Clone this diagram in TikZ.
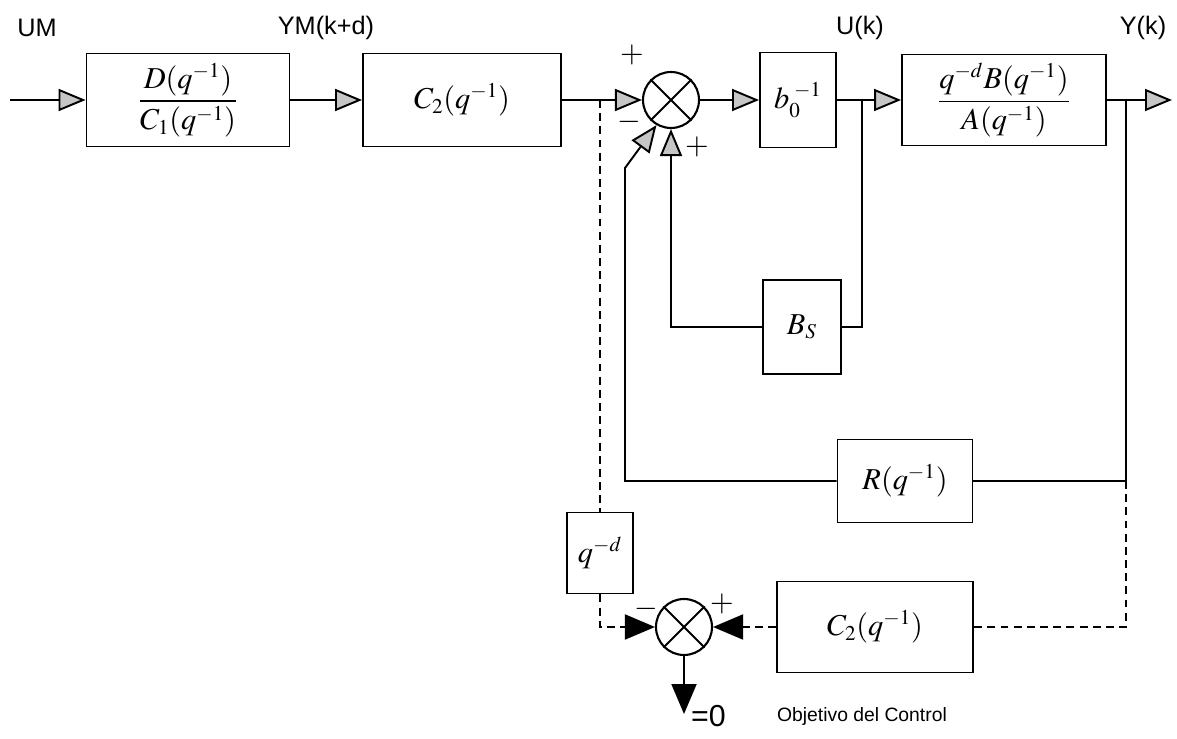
\documentclass[tikz,border=0pt]{standalone}
\usepackage{amsmath}
\usepackage{mathptmx}
\usepackage{fontspec}
\setsansfont{Liberation Sans}
\usepackage{tikz}
\usetikzlibrary{arrows.meta, positioning, calc}
\tikzstyle{block} = [draw=black, line width=1.1pt, inner sep=2pt, font=\LARGE, align=center]
\tikzstyle{sumnode} = [draw=black, circle, line width=1.2pt, minimum size=1.12cm, inner sep=0pt]
\tikzstyle{arrow} = [line width=1.1pt, -{Triangle[length=5.4mm,width=4.4mm,fill=gray!45]}]
\tikzstyle{blackarrow} = [line width=1.1pt, -{Triangle[length=6mm,width=5mm]}]
\tikzstyle{wire} = [line width=1.1pt]
\tikzstyle{dashwire} = [line width=1.1pt, dash pattern=on 4.5pt off 3pt]
\tikzstyle{signal} = [font=\sffamily\Large, inner sep=1pt]
\tikzstyle{sign} = [font=\LARGE, inner sep=0pt]

\begin{document}
\begin{tikzpicture}[x=0.02cm, y=-0.02cm]
\useasboundingbox (0,0) rectangle (1177,739);

% main path
\node[block, minimum width=4.06cm, minimum height=1.86cm] (filt) at (188,100)
{$\dfrac{D(q^{-1})}{C_1(q^{-1})}$};
\node[block, minimum width=3.96cm, minimum height=1.86cm] (ctwo) at (462,100)
{$C_2(q^{-1})$};
\node[sumnode] (sumtop) at (671,100) {};
\node[block, minimum width=1.52cm, minimum height=1.9cm] (binv) at (798,100)
{$b_0^{\;-1}$};
\node[block, minimum width=4.08cm, minimum height=1.82cm] (plant) at (1004,100)
{$\dfrac{q^{-d}B(q^{-1})}{A(q^{-1})}$};

% feedback blocks
\node[block, minimum width=1.56cm, minimum height=1.88cm] (bs) at (802,327) {$B_S$};
\node[block, minimum width=2.7cm, minimum height=1.66cm] (rblk) at (905,481) {$R(q^{-1})$};

% control objective
\node[block, minimum width=1.32cm, minimum height=1.62cm] (qd) at (600,553) {$q^{-d}$};
\node[sumnode] (sumbot) at (684,627) {};
\node[block, minimum width=3.92cm, minimum height=1.82cm] (ctwob) at (875,627) {$C_2(q^{-1})$};

\draw[wire] (sumtop.north east) -- (sumtop.south west) (sumtop.north west) -- (sumtop.south east);
\draw[wire] (sumbot.north east) -- (sumbot.south west) (sumbot.north west) -- (sumbot.south east);

\coordinate (um) at (10,100);
\coordinate (tap) at (600,100);
\coordinate (uk) at (862,100);
\coordinate (yk) at (1126,100);
\coordinate (out) at (1172,100);
\coordinate (rbend) at (625,168);
\coordinate (zero) at (684,714);

\draw[arrow] (um) -- (filt.west);
\draw[arrow] (filt.east) -- (ctwo.west);
\draw[arrow] (ctwo.east) -- (sumtop.west);
\draw[arrow] (sumtop.east) -- (binv.west);
\draw[arrow] (binv.east) -- (plant.west);
\draw[arrow] (plant.east) -- (out);

\draw[wire] (uk) |- (bs.east);
\draw[arrow] (bs.west) -| (sumtop.south);
\draw[wire] (yk) |- (rblk.east);
\draw[arrow] (rblk.west) -| (rbend) -- (sumtop.240);

\draw[dashwire] (tap) -- (qd.north);
\draw[dashwire, -{Triangle[length=6mm,width=5mm]}] (qd.south) |- (sumbot.west);
\draw[dashwire] (yk |- rblk.east) |- (ctwob.east);
\draw[dashwire, -{Triangle[length=6mm,width=5mm]}] (ctwob.west) -- (sumbot.east);
\draw[blackarrow] (sumbot.south) -- (zero);

% labels
\node[signal] (lum) at (37,28) {UM};
\node[signal] (lym) at (326,28) {YM(k+d)};
\node[signal] (luk) at (860,28) {U(k)};
\node[signal] (lyk) at (1143,28) {Y(k)};
\node[sign] (ptop) at (632,55) {$+$};
\node[sign] (mtop) at (629,122) {$-$};
\node[sign] (pbs) at (697,147) {$+$};
\node[sign] (mbot) at (646,609) {$-$};
\node[sign] (pbot) at (722,604) {$+$};
\node[signal, anchor=west, font=\sffamily\LARGE] (lzero) at (689,716) {=0};
\node[signal, font=\sffamily\fontsize{11}{13}\selectfont] (lobj) at (862,717) {Objetivo del Control};
\end{tikzpicture}
\end{document}
